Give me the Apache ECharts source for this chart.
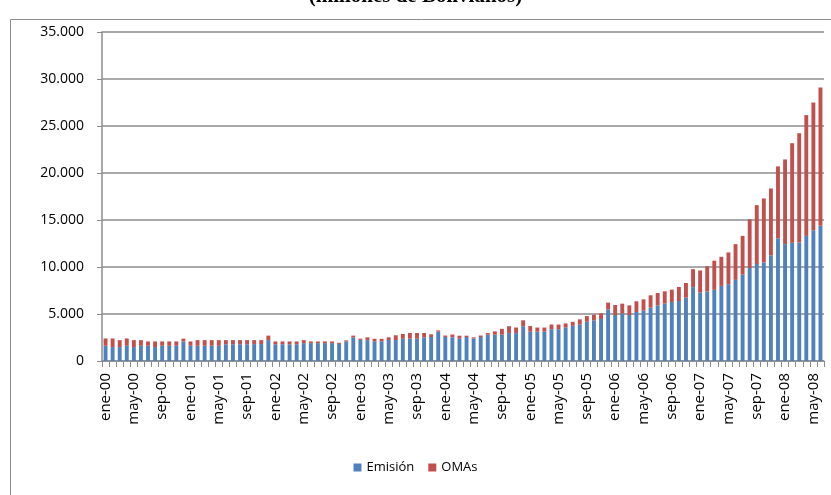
<!DOCTYPE html>
<html>
<head>
<meta charset="utf-8">
<script src="https://cdn.jsdelivr.net/npm/echarts@6/dist/echarts.min.js"></script>
<style>
html,body{margin:0;padding:0;background:#fff;}
#chart{width:831px;height:495px;}
</style>
</head>
<body>
<div id="chart"></div>
<script>
const monthNames = ['ene','feb','mar','abr','may','jun','jul','ago','sep','oct','nov','dic'];
const years = ['00','01','02','03','04','05','06','07','08'];
const lastMonthCount = 6; // 2008 runs to jun-08
const categories = [];
years.forEach((y, yi) => {
  const n = (yi === years.length - 1) ? lastMonthCount : 12;
  for (let m = 0; m < n; m++) categories.push(monthNames[m] + '-' + y);
});

const emision = [
  1620,1480,1480,1620,1480,1620,1620,1480,1620,1620,1620,2080,
  1620,1620,1620,1620,1620,1780,1780,1780,1780,1800,1800,2220,
  1780,1780,1780,1780,1900,1900,1900,1900,1900,1820,2080,2520,
  2250,2220,2100,2100,2230,2230,2360,2380,2370,2520,2550,3120,
  2560,2520,2370,2550,2400,2550,2800,2800,2800,2970,2970,3700,
  3120,3120,3120,3380,3380,3580,3740,3860,4170,4330,4470,5500,
  4890,5040,4890,5210,5350,5670,5920,6100,6280,6380,6740,7860,
  7260,7390,7570,7990,8170,8630,9190,9890,10320,10490,11230,13030,
  12430,12570,12610,13310,13910,14380
];
const omas = [
  780,920,740,780,740,600,460,600,460,460,460,300,
  460,600,600,600,600,440,440,440,440,420,420,480,
  300,300,300,300,320,180,180,180,180,120,120,180,
  130,300,260,260,290,510,510,600,610,460,290,140,
  150,300,320,140,120,160,180,350,620,730,590,630,
  600,440,440,500,500,420,430,570,610,600,600,710,
  1070,1060,1030,1140,1210,1320,1310,1310,1310,1490,1560,1910,
  2370,2680,3100,3100,3380,3800,4120,5180,6260,6800,7120,7670,
  9010,10600,11620,12850,13590,14720
];
const yTicks = [0,5000,10000,15000,20000,25000,30000,35000];
const seriesNames = ['Emisión','OMAs'];
const titleText = '(millones de Bolivianos)';

const fmt = v => String(v).replace(/\B(?=(\d{3})+(?!\d))/g, '.');
const gray = '#8c8c8c';
const font = '"Open Sans", Lato, sans-serif';

const chart = echarts.init(document.getElementById('chart'), null, {renderer:'canvas'});
chart.setOption({
  animation:false,
  backgroundColor:'#fff',
  graphic:[
    {type:'rect', left:8, top:17, shape:{width:840, height:500}, style:{fill:'none', stroke:'#8c8c8c', lineWidth:1}, silent:true, z:-1},
    {type:'text', left:'center', top:-14, style:{text:titleText, font:'bold 21px "Liberation Serif", "DejaVu Serif", serif', fill:'#000'}}
  ],
  grid:{left:102, right:7, top:32, bottom:134, containLabel:false},
  legend:{
    data:seriesNames, top:456, left:'center', icon:'rect', itemWidth:8, itemHeight:8, itemGap:14,
    textStyle:{fontFamily:font, fontSize:13, color:'#000'}
  },
  xAxis:{
    type:'category', data:categories, boundaryGap:true,
    axisLine:{lineStyle:{color:gray, width:1.5}},
    axisTick:{show:true, interval:0, length:6, lineStyle:{color:gray}},
    axisLabel:{interval:3, rotate:90, fontFamily:font, fontSize:15, color:'#000', margin:12}
  },
  yAxis:{
    type:'value', min:yTicks[0], max:yTicks[yTicks.length-1], interval:5000,
    axisLine:{show:true, lineStyle:{color:gray, width:1.5}},
    axisTick:{show:true, length:5, lineStyle:{color:gray}},
    splitLine:{lineStyle:{color:gray, width:1.5}},
    axisLabel:{formatter:fmt, fontFamily:font, fontSize:14, color:'#000', margin:18}
  },
  series:[
    {name:seriesNames[0], type:'bar', stack:'t', data:emision, itemStyle:{color:'#4F81BD'}, barCategoryGap:'45%'},
    {name:seriesNames[1], type:'bar', stack:'t', data:omas, itemStyle:{color:'#C0504D'}, barCategoryGap:'45%'}
  ]
});
</script>
</body>
</html>
